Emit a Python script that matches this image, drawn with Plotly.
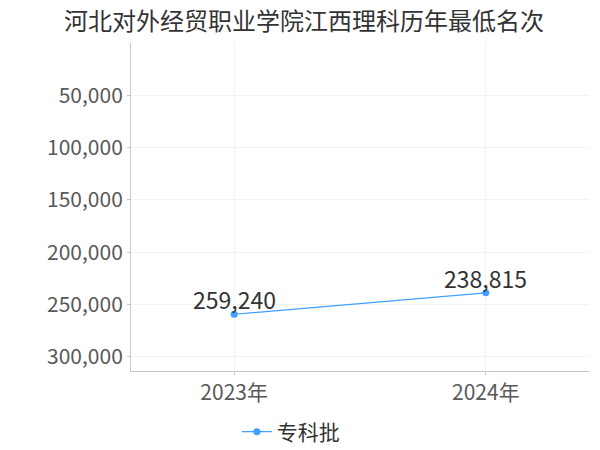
import plotly.graph_objects as go

years = ["2023年", "2024年"]
ranks = [259240, 238815]
rank_labels = ["259,240", "238,815"]
series_name = "专科批"
y_ticks = [50000, 100000, 150000, 200000, 250000, 300000]
y_tick_text = ["50,000", "100,000", "150,000", "200,000", "250,000", "300,000"]

fig = go.Figure()
fig.add_trace(go.Scatter(
    x=years, y=ranks, mode="lines+markers", name=series_name,
    line=dict(color="#3fa0ff", width=1.2),
    marker=dict(color="#3fa0ff", size=7),
    cliponaxis=False,
))
for xv, yv, lab in zip(years, ranks, rank_labels):
    fig.add_annotation(x=xv, y=yv, text=lab, showarrow=False, xanchor="center",
                       yanchor="bottom", yshift=-4,
                       font=dict(size=23, color="#333333"))
fig.update_layout(
    width=592, height=442,
    paper_bgcolor="white", plot_bgcolor="white",
    margin=dict(l=123, r=11, t=35, b=79, autoexpand=False),
    font=dict(family="Noto Sans CJK SC, sans-serif"),
    title=dict(text="河北对外经贸职业学院江西理科历年最低名次", x=0.5, xanchor="center",
               xref="container", yref="container", y=0.969, yanchor="middle",
               font=dict(size=24, color="#333333")),
    showlegend=True,
    legend=dict(orientation="h", x=0.349, xanchor="center", y=-0.186, yanchor="middle",
                font=dict(size=21, color="#333333")),
    xaxis=dict(range=[-0.41, 1.41], showgrid=True, gridcolor="#f3f3f3", automargin=False,
               showline=True, linecolor="#c8c8c8", ticks="outside", ticklen=3,
               tickcolor="#c8c8c8", tickfont=dict(size=21, color="#595959")),
    yaxis=dict(range=[313500, 0], tickvals=y_ticks, ticktext=y_tick_text, automargin=False,
               showgrid=True, gridcolor="#f3f3f3", zeroline=False,
               showline=True, linecolor="#c8c8c8", ticks="outside", ticklen=3,
               tickcolor="#c8c8c8", tickfont=dict(size=21, color="#595959")),
)
fig.write_html("out.html")
